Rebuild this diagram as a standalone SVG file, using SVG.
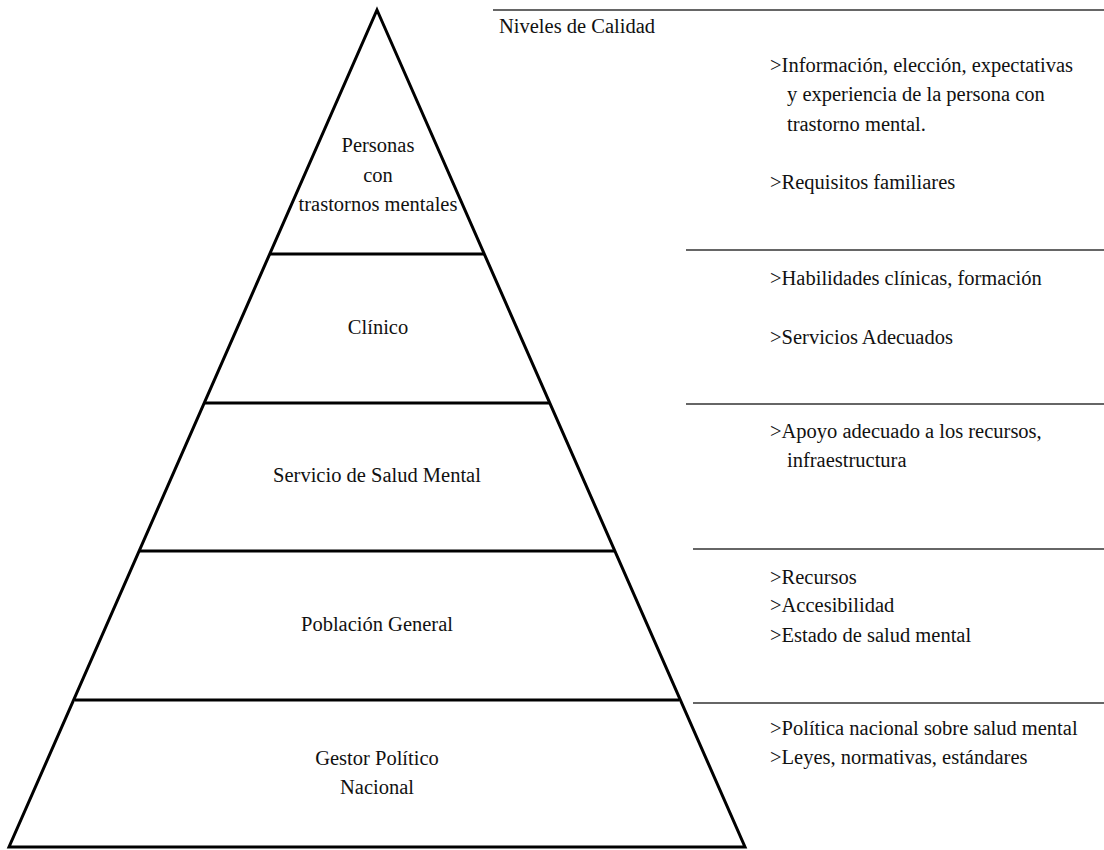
<svg xmlns="http://www.w3.org/2000/svg" width="1104" height="850" viewBox="0 0 1104 850">
<style>
.t{font-family:'Liberation Serif','Times New Roman',serif;font-size:20.5px;fill:#111}
.c{text-anchor:middle}
.pyr{fill:none;stroke:#000;stroke-width:3;stroke-linejoin:miter}
.sep{stroke:#333;stroke-width:1.5}
</style>
<rect width="1104" height="850" fill="#fff"/>
<g id="pyramid">
<polygon class="pyr" points="377,10 745,847 9,847"/>
</g>
<g id="level-personas">
<line class="pyr" x1="270" y1="254" x2="484" y2="254"/>
<text class="t c" x="378" y="152">Personas</text>
<text class="t c" x="378" y="182">con</text>
<text class="t c" x="378" y="211">trastornos mentales</text>
</g>
<g id="level-clinico">
<line class="pyr" x1="205" y1="403" x2="549" y2="403"/>
<text class="t c" x="378" y="334">Clínico</text>
</g>
<g id="level-servicio">
<line class="pyr" x1="140" y1="551" x2="614" y2="551"/>
<text class="t c" x="377" y="482">Servicio de Salud Mental</text>
</g>
<g id="level-poblacion">
<line class="pyr" x1="75" y1="700" x2="679" y2="700"/>
<text class="t c" x="377" y="631">Población General</text>
</g>
<g id="level-gestor">
<text class="t c" x="377" y="765">Gestor Político</text>
<text class="t c" x="377" y="794">Nacional</text>
</g>
<g id="separators">
<line class="sep" x1="493" y1="10" x2="1104" y2="10"/>
<line class="sep" x1="686" y1="250" x2="1104" y2="250"/>
<line class="sep" x1="686" y1="404" x2="1104" y2="404"/>
<line class="sep" x1="693" y1="549" x2="1104" y2="549"/>
<line class="sep" x1="693" y1="703" x2="1104" y2="703"/>
</g>
<g id="title">
<text class="t" x="499" y="33">Niveles de Calidad</text>
</g>
<g id="quality-personas">
<text class="t" x="770" y="72">&gt;Información, elección, expectativas</text>
<text class="t" x="787" y="101">y experiencia de la persona con</text>
<text class="t" x="787" y="131">trastorno mental.</text>
<text class="t" x="770" y="189">&gt;Requisitos familiares</text>
</g>
<g id="quality-clinico">
<text class="t" x="770" y="285">&gt;Habilidades clínicas, formación</text>
<text class="t" x="770" y="344">&gt;Servicios Adecuados</text>
</g>
<g id="quality-servicio">
<text class="t" x="770" y="438">&gt;Apoyo adecuado a los recursos,</text>
<text class="t" x="787" y="467">infraestructura</text>
</g>
<g id="quality-poblacion">
<text class="t" x="770" y="584">&gt;Recursos</text>
<text class="t" x="770" y="612">&gt;Accesibilidad</text>
<text class="t" x="770" y="642">&gt;Estado de salud mental</text>
</g>
<g id="quality-gestor">
<text class="t" x="770" y="735">&gt;Política nacional sobre salud mental</text>
<text class="t" x="770" y="764">&gt;Leyes, normativas, estándares</text>
</g>
</svg>
